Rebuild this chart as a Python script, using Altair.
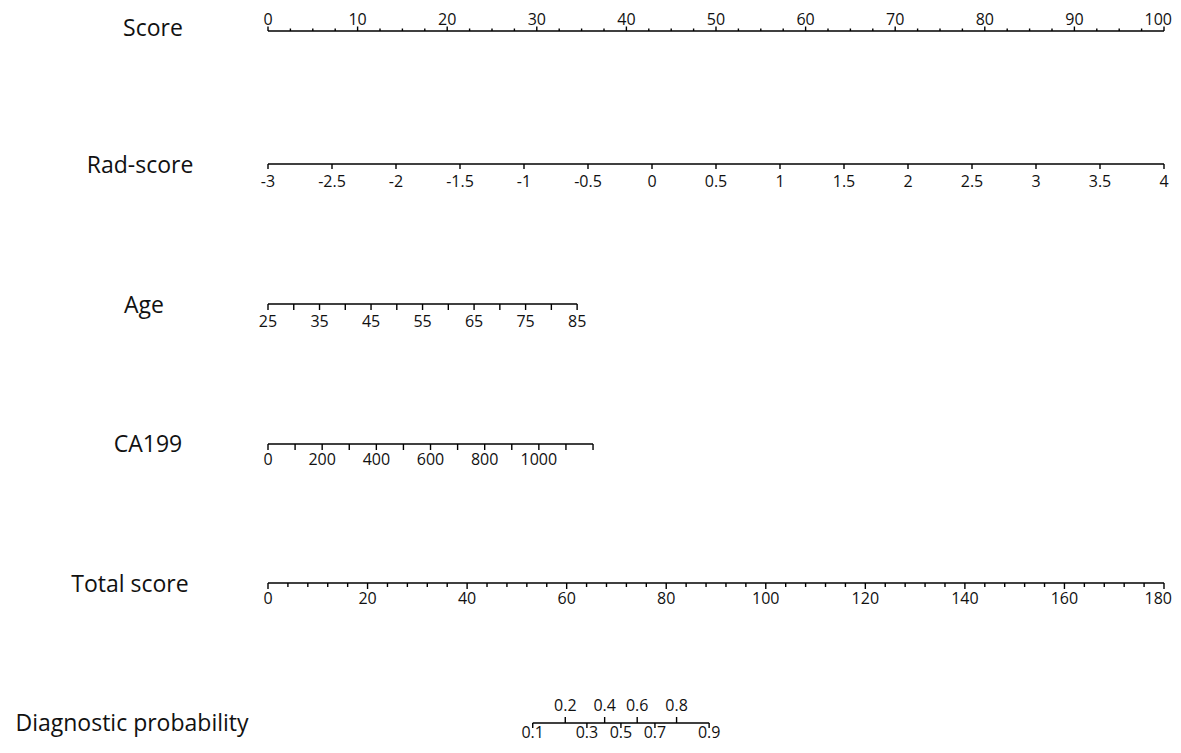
import altair as alt
import pandas as pd
import math

# ---------------- data ----------------
row_names = ["Score", "Rad-score", "Age", "CA199", "Total score", "Diagnostic probability"]

score_major = [0, 10, 20, 30, 40, 50, 60, 70, 80, 90, 100]
score_minor = [2.5, 5, 7.5, 12.5, 15, 17.5, 22.5, 25, 27.5, 32.5, 35, 37.5, 42.5, 45, 47.5,
               52.5, 55, 57.5, 62.5, 65, 67.5, 72.5, 75, 77.5, 82.5, 85, 87.5, 92.5, 95, 97.5]

rad_ticks = [-3, -2.5, -2, -1.5, -1, -0.5, 0, 0.5, 1, 1.5, 2, 2.5, 3, 3.5, 4]
rad_labels = ["-3", "-2.5", "-2", "-1.5", "-1", "-0.5", "0", "0.5", "1", "1.5", "2", "2.5", "3", "3.5", "4"]

age_ticks = [25, 30, 35, 40, 45, 50, 55, 60, 65, 70, 75, 80, 85]
age_labels = [25, 35, 45, 55, 65, 75, 85]

ca_ticks = [0, 100, 200, 300, 400, 500, 600, 700, 800, 900, 1000, 1100, 1200]
ca_labels = [0, 200, 400, 600, 800, 1000]

total_ticks = [0, 4, 8, 12, 16, 20, 24, 28, 32, 36, 40, 44, 48, 52, 56, 60, 64, 68, 72, 76, 80,
               84, 88, 92, 96, 100, 104, 108, 112, 116, 120, 124, 128, 132, 136, 140, 144, 148,
               152, 156, 160, 164, 168, 172, 176, 180]
total_labels = [0, 20, 40, 60, 80, 100, 120, 140, 160, 180]

prob_upper = [0.2, 0.4, 0.6, 0.8]
prob_lower = [0.1, 0.3, 0.5, 0.7, 0.9]

# model mapping of each variable to the 0-100 point scale
RAD_MIN, RAD_PTS_PER_UNIT = -3.0, 100.0 / 7.0
AGE_MIN, AGE_PTS_PER_YEAR = 25.0, 0.575
CA_PTS_PER_UNIT = 0.03023
TOTAL_TO_POINTS = 100.0 / 180.0
PROB_T0, PROB_B = 70.9, 0.124   # total score at p=0.5, slope of linear predictor


def prob_to_points(p):
    total = PROB_T0 + math.log(p / (1 - p)) / PROB_B
    return total * TOTAL_TO_POINTS


# ---------------- layout (pixel positions inside the plot) ----------------
W, H = 1165, 737
X0, X1 = 260, 1156
row_y = {"Score": 23, "Rad-score": 156, "Age": 296, "CA199": 436,
         "Total score": 575, "Diagnostic probability": 715}
row_label_x = {"Score": 145, "Rad-score": 132, "Age": 136, "CA199": 140,
               "Total score": 122, "Diagnostic probability": 124}
row_label_dy = {"Score": -2, "Rad-score": 2, "Age": 2, "CA199": 1,
                "Total score": 2, "Diagnostic probability": 1}

ticks, labels, lines = [], [], []


def add_row(name, tick_pts, lab_pts, lab_txt, tick_dir, tick_len, lab_offset,
            major_pts=None, major_len=None, edge_last=False):
    y = row_y[name]
    lines.append({"row": name, "x": min(tick_pts), "x2": max(tick_pts), "y": y})
    for p in tick_pts:
        ln = tick_len
        if major_pts is not None and any(abs(p - m) < 1e-9 for m in major_pts):
            ln = major_len
        ticks.append({"row": name, "x": p, "y": y, "y2": y + tick_dir * ln})
    n = len(lab_pts)
    for i, (p, t) in enumerate(zip(lab_pts, lab_txt)):
        labels.append({"row": name, "x": p, "y": y + lab_offset, "text": t,
                       "edge": bool(edge_last and i == n - 1)})


# Score
add_row("Score", score_major + score_minor, score_major, [str(v) for v in score_major],
        -1, 2.5, -6, major_pts=score_major, major_len=4.5, edge_last=True)
# Rad-score
rp = [(v - RAD_MIN) * RAD_PTS_PER_UNIT for v in rad_ticks]
add_row("Rad-score", rp, rp, rad_labels, 1, 5, 23)
# Age
ap = [(v - AGE_MIN) * AGE_PTS_PER_YEAR for v in age_ticks]
alp = [(v - AGE_MIN) * AGE_PTS_PER_YEAR for v in age_labels]
add_row("Age", ap, alp, [str(v) for v in age_labels], 1, 6, 23)
# CA199
cp = [v * CA_PTS_PER_UNIT for v in ca_ticks]
clp = [v * CA_PTS_PER_UNIT for v in ca_labels]
add_row("CA199", cp, clp, [str(v) for v in ca_labels], 1, 6, 21)
# Total score
tp = [v * TOTAL_TO_POINTS for v in total_ticks]
tlp = [v * TOTAL_TO_POINTS for v in total_labels]
add_row("Total score", tp, tlp, [str(v) for v in total_labels], 1, 4, 21,
        major_pts=tlp, major_len=6, edge_last=True)
# Diagnostic probability
name = "Diagnostic probability"
y = row_y[name]
up = [prob_to_points(p) for p in prob_upper]
lp = [prob_to_points(p) for p in prob_lower]
lines.append({"row": name, "x": min(lp), "x2": max(lp), "y": y})
for p, v in zip(up, prob_upper):
    ticks.append({"row": name, "x": p, "y": y, "y2": y - 6})
    labels.append({"row": name, "x": p, "y": y - 12, "text": f"{v:.1f}", "edge": False})
for p, v in zip(lp, prob_lower):
    ticks.append({"row": name, "x": p, "y": y, "y2": y + 5})
    labels.append({"row": name, "x": p, "y": y + 15, "text": f"{v:.1f}", "edge": False})

ticks_df = pd.DataFrame(ticks)
labels_df = pd.DataFrame(labels)
lines_df = pd.DataFrame(lines)
rows_df = pd.DataFrame({"name": row_names,
                        "lx": [row_label_x[n] for n in row_names],
                        "ly": [row_y[n] + row_label_dy[n] for n in row_names]})

FONT = "Open Sans"
xs = alt.Scale(domain=[0, 100], range=[X0, X1])

line_layer = alt.Chart(lines_df).mark_rule(color="black", strokeWidth=1.6).encode(
    x=alt.X("x:Q", scale=xs, axis=None),
    x2="x2:Q",
    y=alt.Y("y:Q", scale=None, axis=None),
)
tick_layer = alt.Chart(ticks_df).mark_rule(color="black", strokeWidth=1.4).encode(
    x=alt.X("x:Q", scale=xs, axis=None),
    y=alt.Y("y:Q", scale=None, axis=None),
    y2="y2:Q",
)
label_base = alt.Chart(labels_df).encode(
    x=alt.X("x:Q", scale=xs, axis=None),
    y=alt.Y("y:Q", scale=None, axis=None),
    text="text:N",
)
label_layer = label_base.mark_text(
    font=FONT, fontSize=16, color="#111", baseline="alphabetic", align="center"
).transform_filter("!datum.edge")
edge_label_layer = label_base.mark_text(
    font=FONT, fontSize=16, color="#111", baseline="alphabetic", align="right", dx=8
).transform_filter("datum.edge")
row_layer = alt.Chart(rows_df).mark_text(
    font=FONT, fontSize=23, color="#111", baseline="middle", align="center"
).encode(
    x=alt.X("lx:Q", scale=None, axis=None),
    y=alt.Y("ly:Q", scale=None, axis=None),
    text="name:N",
)

chart = alt.layer(line_layer, tick_layer, label_layer, edge_label_layer, row_layer).resolve_scale(
    x="independent"
).properties(
    width=W, height=H, padding=0, autosize=alt.AutoSizeParams(type="none")
).configure_view(stroke=None)

chart.save("out.html", embed_options={"renderer": "svg", "actions": False})
